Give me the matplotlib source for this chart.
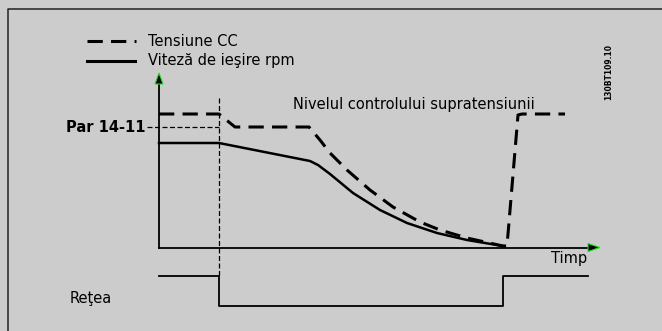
import numpy as np
from matplotlib import pyplot as plt

# diagram space: x grows right, y grows down (0..662, 0..331)
# DC link voltage (dashed)
volt_x = [159, 219, 235, 309, 320, 330, 347, 370, 393, 420, 440, 467, 485, 503, 507, 518, 522, 565]
volt_y = [114, 114, 127, 127, 140, 153, 170, 190, 207, 222, 230, 238, 242, 246, 246, 115, 114, 114]

# output speed (solid)
speed_x = [159, 219, 310, 318, 330, 353, 380, 407, 437, 467, 485, 503]
speed_y = [143, 143, 161, 165, 174, 193, 210, 223, 233, 240, 243, 246]

# mains state (step)
mains_x = [159, 219, 219, 503, 503, 588]
mains_y = [276, 276, 306, 306, 276, 276]

par_level = 127
mains_loss_t = 219

legend_labels = ["Tensiune CC", "Viteză de ieşire rpm"]
axis_label_x = "Timp"
mains_label = "Reţea"
par_label = "Par 14-11"
ovc_label = "Nivelul controlului supratensiunii"
code_label = "130BT109.10"

plt.rcParams['font.family'] = ['DejaVu Sans']
bg = '#cccccc'
fs = 10.5

fig = plt.figure(figsize=(6.62, 3.31), dpi=100, facecolor=bg)
ax = fig.add_axes([0, 0, 1, 1])
ax.set_facecolor(bg)
ax.set_xlim(0, 662)
ax.set_ylim(331, 0)
ax.axis('off')

# outer frame
ax.plot([8, 8, 662], [331, 9, 9], color='#222222', lw=1.1)

# axes with green arrow heads
ax.plot([159, 159], [247.5, 82], color='black', lw=1.3)
ax.plot([159, 592], [247.5, 247.5], color='black', lw=1.3)
ax.fill([155, 163, 159], [84, 84, 73], color='black', ec='#22dd22', lw=0.8, zorder=5)
ax.fill([588, 588, 600], [243.5, 251.5, 247.5], color='black', ec='#22dd22', lw=0.8, zorder=5)

# mains loss marker
ax.plot([mains_loss_t, mains_loss_t], [98, 276], color='black', lw=0.9, dashes=(4, 2))
ax.plot([147, mains_loss_t], [par_level, par_level], color='black', lw=0.9, dashes=(4, 2))

ax.plot(volt_x, volt_y, color='black', lw=2.2, dashes=(5, 2.7))
ax.plot(speed_x, speed_y, color='black', lw=1.8)
ax.plot(mains_x, mains_y, color='black', lw=1.3)

# legend
ax.plot([87, 136], [41, 41], color='black', lw=2.2, dashes=(5, 2.7))
ax.plot([87, 135], [61, 61], color='black', lw=2.2)
ax.text(148, 41, legend_labels[0], fontsize=fs, va='center')
ax.text(148, 61, legend_labels[1], fontsize=fs, va='center')

ax.text(145, par_level, par_label, fontsize=fs, fontweight='bold', ha='right', va='center')
ax.text(293, 104, ovc_label, fontsize=fs, va='center')
ax.text(551, 258, axis_label_x, fontsize=fs, va='center')
ax.text(70, 298, mains_label, fontsize=fs, va='center')
ax.text(609, 72, code_label, fontsize=6, fontweight='bold', rotation=90,
        ha='center', va='center', fontstretch='condensed')

fig.savefig('out.png', dpi=100, facecolor=bg)
